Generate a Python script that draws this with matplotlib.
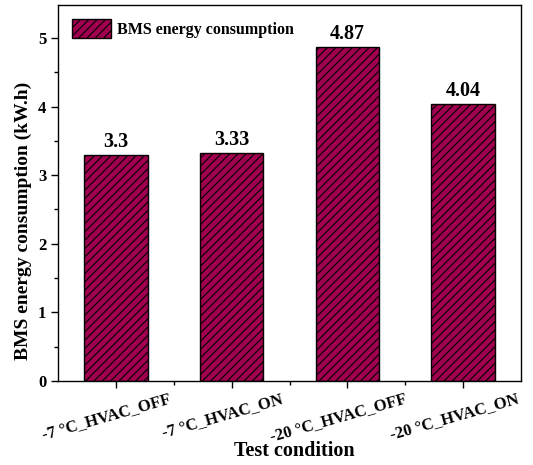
import numpy as np
import matplotlib.pyplot as plt
import matplotlib.transforms as mtransforms
from matplotlib.ticker import MultipleLocator, FixedLocator

conditions = ["-7 \u00b0C_HVAC_OFF", "-7 \u00b0C_HVAC_ON", "-20 \u00b0C_HVAC_OFF", "-20 \u00b0C_HVAC_ON"]
energy = [3.3, 3.33, 4.87, 4.04]
value_labels = ["3.3", "3.33", "4.87", "4.04"]

plt.rcParams['font.family'] = ['Liberation Serif', 'DejaVu Serif']
plt.rcParams['font.weight'] = 'bold'
plt.rcParams['hatch.linewidth'] = 0.8

fig = plt.figure(figsize=(5.33, 4.65), dpi=100)
ax = fig.add_axes([58 / 533, 1 - 381 / 465, 463 / 533, 376 / 465])

x = np.arange(len(conditions))
ax.bar(x, energy, width=0.55, color='#A0004F', edgecolor='black',
       linewidth=1.0, hatch='////', label='BMS energy consumption')

for xi, v, lab in zip(x, energy, value_labels):
    ax.text(xi, v + 0.035, lab, ha='center', va='bottom', fontsize=14.5, fontweight='bold')

ax.set_xlim(-0.5, 3.5)
ax.set_ylim(0, 5.48)
ax.set_xticks(x)
ax.set_xticklabels([])
# rotated category labels, sitting a little left of their ticks
offset = mtransforms.ScaledTranslation(-9 / 100, -10 / 100, fig.dpi_scale_trans)
for xi, cond in zip(x, conditions):
    ax.text(xi, 0, cond, transform=ax.get_xaxis_transform() + offset,
            rotation=16, ha='center', va='top', fontsize=12, fontweight='bold')

ax.xaxis.set_minor_locator(FixedLocator([0.5, 1.5, 2.5]))
ax.yaxis.set_major_locator(MultipleLocator(1))
ax.yaxis.set_minor_locator(MultipleLocator(0.5))
ax.tick_params(axis='both', which='major', direction='out', length=5, width=1)
ax.tick_params(axis='y', which='major', labelsize=12)
ax.tick_params(axis='both', which='minor', direction='out', length=3, width=1)

for sp in ax.spines.values():
    sp.set_linewidth(1.0)

ax.set_xlabel('Test condition', fontsize=14.5, fontweight='bold')
ax.set_ylabel('BMS energy consumption (kW.h)', fontsize=14, fontweight='bold')
ax.xaxis.set_label_coords(0.51, -0.16)
ax.yaxis.set_label_coords(-0.056, 0.425)

ax.legend(loc='upper left', frameon=False, fontsize=11.5, handlelength=2.4, handleheight=1.4,
          borderaxespad=0.5, handletextpad=0.4)

fig.savefig('out.png', dpi=100)
